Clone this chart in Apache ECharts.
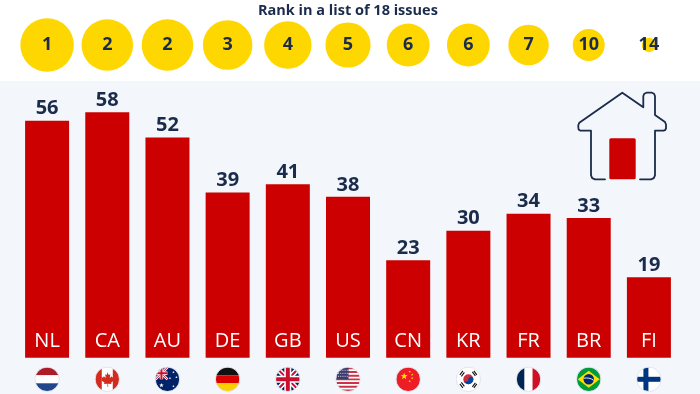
<!DOCTYPE html>
<html>
<head>
<meta charset="utf-8">
<style>html,body{margin:0;padding:0;background:#fff}#c{width:700px;height:394px}</style>
<script src="https://cdn.jsdelivr.net/npm/echarts@6/dist/echarts.min.js"></script>
</head>
<body>
<div id="c"></div>
<script>
const categories = ['NL','CA','AU','DE','GB','US','CN','KR','FR','BR','FI'];
const shares = [56,58,52,39,41,38,23,30,34,33,19];
const ranks = [1,2,2,3,4,5,6,6,7,10,14];

const NAVY = '#1a2b4b', RED = '#cc0000', YELLOW = '#ffd700', PANEL = '#f3f6fa';

function star(cx, cy, r, fill) {
  let p = [];
  for (let i = 0; i < 10; i++) {
    const a = -Math.PI / 2 + i * Math.PI / 5, q = i % 2 ? r * 0.42 : r;
    p.push((cx + q * Math.cos(a)).toFixed(2) + ',' + (cy + q * Math.sin(a)).toFixed(2));
  }
  return `<polygon points="${p.join(' ')}" fill="${fill}"/>`;
}
const jack = (s) => `<g transform="scale(${s})"><rect width="24" height="24" fill="#012169"/>
<path d="M0 0L24 24M24 0L0 24" stroke="#fff" stroke-width="5"/>
<path d="M0 0L24 24M24 0L0 24" stroke="#c8102e" stroke-width="2"/>
<path d="M12 0V24M0 12H24" stroke="#fff" stroke-width="7"/>
<path d="M12 0V24M0 12H24" stroke="#c8102e" stroke-width="4"/></g>`;
const flags = {
  NL: '<rect width="24" height="8" fill="#ae1c28"/><rect y="8" width="24" height="8" fill="#fff"/><rect y="16" width="24" height="8" fill="#21468b"/>',
  CA: '<rect width="24" height="24" fill="#fff"/><rect width="6.5" height="24" fill="#d52b1e"/><rect x="17.5" width="6.5" height="24" fill="#d52b1e"/><path d="M12 5l1.5 2.8 1.6-.8-.6 3.6 2-1.6.5 1.3 2-.3-.7 2.2.9.6-3.4 2.7.4 1.3-3.4-.4.1 3h-.8l.1-3-3.4.4.4-1.3-3.4-2.7.9-.6-.7-2.2 2 .3.5-1.3 2 1.6-.6-3.6 1.6.8z" fill="#d52b1e"/>',
  AU: '<rect width="24" height="24" fill="#012169"/>' + jack(0.5) + star(6,18,2.4,'#fff') + star(18,5,1.3,'#fff') + star(18,19,1.3,'#fff') + star(14.5,11,1.3,'#fff') + star(21,10,1.3,'#fff'),
  DE: '<rect width="24" height="8" fill="#111"/><rect y="8" width="24" height="8" fill="#dd0000"/><rect y="16" width="24" height="8" fill="#ffce00"/>',
  GB: jack(1),
  US: '<rect width="24" height="24" fill="#fff"/><path d="M0 1h24M0 4.7h24M0 8.4h24M0 12h24M0 15.7h24M0 19.4h24M0 23h24" stroke="#c9344a" stroke-width="1.85"/><rect width="12.5" height="12" fill="#3c3b6e"/><path d="M2 3h10M2 6h10M2 9h10" stroke="#d8d8e8" stroke-width="1" stroke-dasharray="1 1.2"/>',
  CN: '<rect width="24" height="24" fill="#ee1c25"/>' + star(8,9,3.6,'#ffde00') + star(13.5,4.5,1.3,'#ffde00') + star(16,7.5,1.3,'#ffde00') + star(16,11,1.3,'#ffde00') + star(13.5,14,1.3,'#ffde00'),
  KR: '<rect width="24" height="24" fill="#fff"/><circle cx="12" cy="12" r="5" fill="#cd2e3a"/><path d="M7 12a5 5 0 0 0 10 0a2.5 2.5 0 0 0-5 0a2.5 2.5 0 0 1-5 0z" fill="#0047a0"/><path d="M3.5 7.5l3-4M5 9l3-4M16 19.5l3-4M17.5 20.5l3-4" stroke="#111" stroke-width="1.1"/><path d="M3.5 16.5l3 4M5 15l3 4M16 4.5l3 4M17.5 3.5l3 4" stroke="#111" stroke-width="1.1"/>',
  FR: '<rect width="8" height="24" fill="#002654"/><rect x="8" width="8" height="24" fill="#fff"/><rect x="16" width="8" height="24" fill="#ce1126"/>',
  BR: '<rect width="24" height="24" fill="#009b3a"/><polygon points="12,3.5 23,12 12,20.5 1,12" fill="#fedf00"/><circle cx="12" cy="12" r="5.2" fill="#002776"/><path d="M7 11c3.5-.8 7-.2 10 2" stroke="#fff" stroke-width=".9" fill="none"/>',
  FI: '<rect width="24" height="24" fill="#fff"/><rect x="6.5" width="5" height="24" fill="#003580"/><rect y="9.5" width="24" height="5" fill="#003580"/>'
};
function flagUri(code, i) {
  const svg = `<svg xmlns="http://www.w3.org/2000/svg" width="26" height="26" viewBox="-1 -1 26 26"><defs><clipPath id="c${i}"><circle cx="12" cy="12" r="12"/></clipPath></defs><g clip-path="url(#c${i})">${flags[code]}</g><circle cx="12" cy="12" r="12.2" fill="none" stroke="#dfe3ea" stroke-width=".9"/></svg>`;
  return 'image://data:image/svg+xml;charset=utf-8,' + encodeURIComponent(svg);
}

const housePoints = [[605,179.3],[595,179.3],[592.2,178.2],[591,175.3],[591,130.7],[580.5,130.7],[578.6,129.5],[578.3,127],[578.3,125],[579.3,122.8],[622.3,92.7],[643.3,107.3],[643.3,96],[644.3,93.7],[646.5,92.7],[652,92.7],[654,93.7],[655,96],[655,115],[665,122],[666,124.5],[666,128.5],[665,130.2],[663.5,130.7],[655,130.7],[655,175.3],[653.8,178.2],[651,179.3],[640,179.3]];

const chart = echarts.init(document.getElementById('c'), null, {renderer: 'canvas'});
const catAxis = (grid, extra) => Object.assign({
  type: 'category', gridIndex: grid, data: categories,
  axisLine: {show: false}, axisTick: {show: false}, axisLabel: {show: false}
}, extra);
const hiddenY = (grid, extra) => Object.assign({
  type: 'value', gridIndex: grid, show: false, splitLine: {show: false}
}, extra);

chart.setOption({
  animation: false,
  backgroundColor: '#fff',
  textStyle: {fontFamily: '"Open Sans"'},
  title: {
    text: 'Rank in a list of 18 issues', left: 258, top: 3, padding: 0,
    textStyle: {fontFamily: '"Open Sans"', fontSize: 14.5, fontWeight: 700, color: NAVY}
  },
  graphic: [
    {type: 'rect', z: -10, silent: true, shape: {x: 0, y: 81, width: 700, height: 313}, style: {fill: PANEL}},
    {type: 'polyline', z: 5, silent: true, shape: {points: housePoints},
      style: {fill: 'none', stroke: NAVY, lineWidth: 1.8, lineCap: 'round', lineJoin: 'round'}},
    {type: 'rect', z: 5, silent: true, shape: {x: 609.3, y: 138.3, width: 26.4, height: 41, r: 1.5}, style: {fill: RED}}
  ],
  grid: [
    {left: 17, width: 662, top: 103.7, height: 254},
    {left: 17, width: 662, top: 0, height: 90},
    {left: 17, width: 662, top: 366.3, height: 26}
  ],
  xAxis: [
    catAxis(0, {z: 10, axisLabel: {show: true, inside: true, margin: 6, color: '#fff', fontSize: 20, fontFamily: '"Open Sans"', interval: 0}}),
    catAxis(1),
    catAxis(2)
  ],
  yAxis: [
    hiddenY(0, {min: 0, max: 60}),
    hiddenY(1, {min: -1, max: 1}),
    hiddenY(2, {min: -1, max: 1})
  ],
  series: [
    {
      type: 'bar', xAxisIndex: 0, yAxisIndex: 0, data: shares, barWidth: 44,
      itemStyle: {color: RED},
      label: {show: true, position: 'top', distance: 2, color: NAVY, fontSize: 20, fontWeight: 700, fontFamily: '"Open Sans"'}
    },
    {
      type: 'scatter', xAxisIndex: 1, yAxisIndex: 1,
      data: ranks.map((r, i) => [i, 0, r]),
      symbol: 'circle', symbolSize: v => 14.3 * Math.sqrt(15 - v[2]),
      itemStyle: {color: YELLOW, opacity: 1},
      label: {show: true, position: 'inside', formatter: p => p.value[2], color: NAVY, fontSize: 18, fontWeight: 700, fontFamily: '"Open Sans"'}
    },
    {
      type: 'scatter', xAxisIndex: 2, yAxisIndex: 2, clip: false,
      data: categories.map((c, i) => ({value: [i, 0], symbol: flagUri(c, i)})),
      symbolSize: 26, itemStyle: {opacity: 1}
    }
  ]
});
</script>
</body>
</html>
